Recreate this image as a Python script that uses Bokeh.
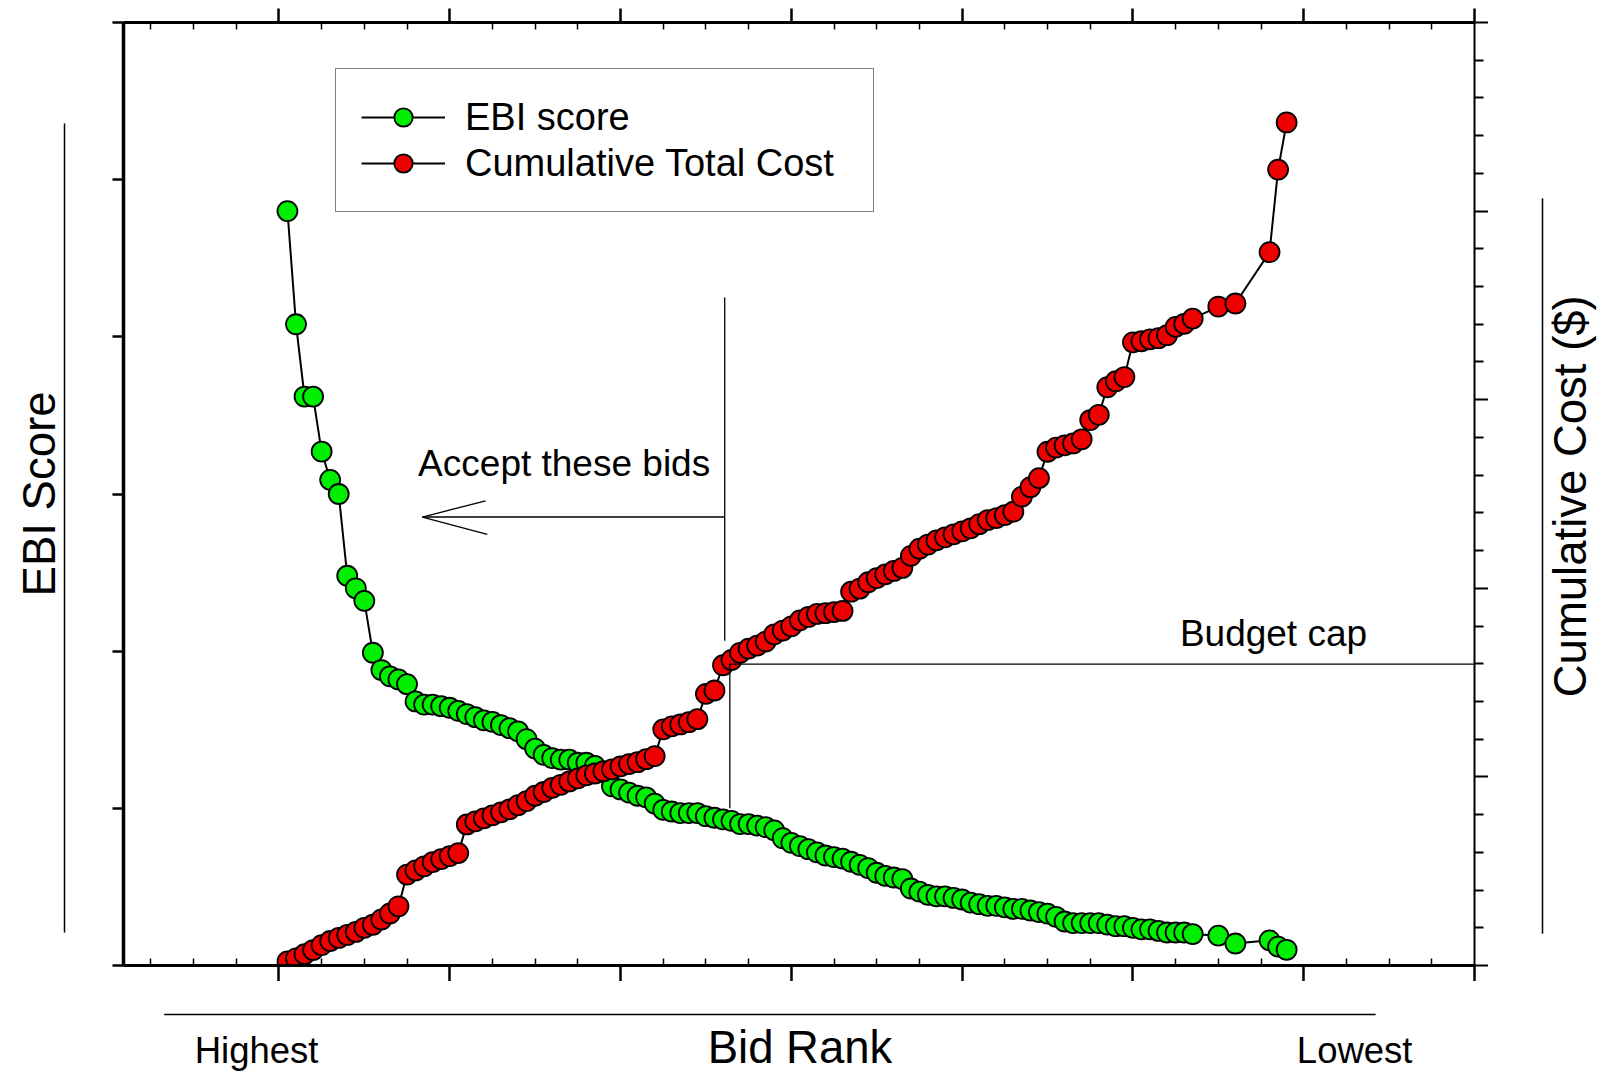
import math
from bokeh.plotting import figure
from bokeh.layouts import row, column
from bokeh.models import Range1d, LinearAxis, FixedTicker, Legend, LegendItem, Label
from bokeh.embed import file_html
from bokeh.resources import INLINE

FONT = "Liberation Sans"
GREEN = "#00ee00"
RED = "#ee0000"

# ---------------- data ----------------
bid_rank = [1, 2, 3, 4, 5, 6, 7, 8, 9, 10,
            11, 12, 13, 14, 15, 16, 17, 18, 19, 20,
            21, 22, 23, 24, 25, 26, 27, 28, 29, 30,
            31, 32, 33, 34, 35, 36, 37, 38, 39, 40,
            41, 42, 43, 44, 45, 46, 47, 48, 49, 50,
            51, 52, 53, 54, 55, 56, 57, 58, 59, 60,
            61, 62, 63, 64, 65, 66, 67, 68, 69, 70,
            71, 72, 73, 74, 75, 76, 77, 78, 79, 80,
            81, 82, 83, 84, 85, 86, 87, 88, 89, 90,
            91, 92, 93, 94, 95, 96, 97, 98, 99, 100,
            101, 102, 103, 104, 105, 106, 107,
            110, 112, 116, 117, 118]

ebi_score = [4.80, 4.08, 3.62, 3.62, 3.27, 3.09, 3.00, 2.48, 2.40, 2.32,
             1.99, 1.88, 1.84, 1.82, 1.79, 1.68, 1.66, 1.66, 1.65, 1.64,
             1.62, 1.60, 1.58, 1.56, 1.55, 1.53, 1.51, 1.49, 1.44, 1.38,
             1.34, 1.32, 1.31, 1.31, 1.29, 1.29, 1.27, 1.23, 1.14, 1.12,
             1.10, 1.08, 1.07, 1.03, 0.99, 0.98, 0.97, 0.97, 0.97, 0.95,
             0.94, 0.93, 0.92, 0.90, 0.90, 0.89, 0.88, 0.86, 0.81, 0.78,
             0.76, 0.74, 0.72, 0.70, 0.69, 0.68, 0.66, 0.64, 0.62, 0.59,
             0.57, 0.56, 0.55, 0.49, 0.47, 0.45, 0.44, 0.44, 0.43, 0.42,
             0.40, 0.39, 0.38, 0.38, 0.37, 0.36, 0.36, 0.35, 0.34, 0.33,
             0.31, 0.28, 0.27, 0.27, 0.27, 0.27, 0.26, 0.25, 0.25, 0.24,
             0.23, 0.23, 0.22, 0.21, 0.21, 0.21, 0.20,
             0.19, 0.14, 0.16, 0.12, 0.10]

cumulative_cost = [0.11, 0.19, 0.30, 0.41, 0.54, 0.65, 0.73, 0.81, 0.89, 1.00,
                   1.08, 1.22, 1.38, 1.57, 2.41, 2.52, 2.63, 2.74, 2.82, 2.90,
                   2.98, 3.74, 3.82, 3.90, 3.98, 4.06, 4.14, 4.25, 4.36, 4.50,
                   4.60, 4.71, 4.79, 4.88, 4.96, 5.04, 5.09, 5.15, 5.20, 5.28,
                   5.34, 5.39, 5.47, 5.55, 6.26, 6.34, 6.39, 6.45, 6.53, 7.20,
                   7.29, 7.96, 8.10, 8.29, 8.40, 8.48, 8.59, 8.78, 8.88, 8.99,
                   9.15, 9.24, 9.32, 9.34, 9.37, 9.40, 9.91, 9.99, 10.16, 10.27,
                   10.37, 10.46, 10.54, 10.86, 11.05, 11.16, 11.27, 11.35, 11.43, 11.51,
                   11.59, 11.70, 11.81, 11.86, 11.94, 12.03, 12.43, 12.68, 12.92, 13.62,
                   13.73, 13.79, 13.84, 13.95, 14.46, 14.60, 15.33, 15.49, 15.60, 16.52,
                   16.55, 16.60, 16.63, 16.71, 16.93, 17.01, 17.15,
                   17.47, 17.55, 18.91, 21.10, 22.35]

# guide lines (bid-rank units, cost units): upper divider, arrow shaft, two arrow
# barbs, budget-cap line, lower divider
guide_x0 = [52.2, 52.2, 16.8, 16.8, 52.8, 52.8]
guide_y0 = [17.71, 11.89, 11.89, 11.89, 7.99, 7.99]
guide_x1 = [52.2, 16.8, 24.2, 24.4, 141.0, 52.8]
guide_y1 = [8.61, 11.89, 12.32, 11.43, 7.99, 4.17]

# tick positions (no numeric tick labels in the reference)
x_major = [0, 20, 40, 60, 80, 100, 120, 140]
x_minor = [-15, -10, -5, 5, 10, 15, 25, 30, 35, 45, 50, 55, 65, 70, 75,
           85, 90, 95, 105, 110, 115, 125, 130, 135]
ebi_ticks = [0, 1, 2, 3, 4, 5, 6]
cost_major = [0, 5, 10, 15, 20, 25]
cost_minor = [1, 2, 3, 4, 6, 7, 8, 9, 11, 12, 13, 14, 16, 17, 18, 19,
              21, 22, 23, 24]

cost_range = Range1d(0, 25)

# ---------------- main figure ----------------
p = figure(width=1488, height=981, output_backend="svg", toolbar_location=None,
           x_range=Range1d(-18.2, 140), y_range=Range1d(0, 6),
           x_axis_location=None, y_axis_location=None,
           min_border_left=123, min_border_right=14,
           min_border_top=22, min_border_bottom=16,
           background_fill_color="white", border_fill_color="white",
           outline_line_color=None)
p.extra_y_ranges = {"cost": cost_range}
p.xgrid.visible = False
p.ygrid.visible = False


def make_axis(ticker, y_range_name=None, line_width=2.0, line_color="black",
              tick_out=0, tick_in=0, minor_out=0, minor_in=0,
              tick_width=2.0, minor_width=1.5, tick_color="black",
              bounds="auto"):
    kw = {}
    if y_range_name is not None:
        kw["y_range_name"] = y_range_name
    ax = LinearAxis(ticker=ticker, bounds=bounds, **kw)
    ax.axis_line_color = line_color
    ax.axis_line_width = line_width
    ax.major_tick_out = tick_out
    ax.major_tick_in = tick_in
    ax.minor_tick_out = minor_out
    ax.minor_tick_in = minor_in
    ax.major_tick_line_color = tick_color
    ax.major_tick_line_width = tick_width
    ax.minor_tick_line_color = tick_color
    ax.minor_tick_line_width = minor_width
    ax.major_label_text_color = None
    ax.major_label_text_font_size = "0px"
    return ax


# bottom / top (Bid Rank)
p.add_layout(make_axis(FixedTicker(ticks=x_major, minor_ticks=x_minor),
                       line_width=3, tick_out=16, minor_in=7, tick_width=2.5), "below")
p.add_layout(make_axis(FixedTicker(ticks=x_major, minor_ticks=x_minor),
                       line_width=3, tick_out=14, minor_in=7, tick_width=2.5), "above")
# left (EBI Score): spine, spacer, guide line, title
p.add_layout(make_axis(FixedTicker(ticks=ebi_ticks), line_width=3.5,
                       tick_out=11, tick_width=2.5), "left")
p.add_layout(make_axis(FixedTicker(ticks=[3]), line_color=None, tick_color=None,
                       tick_out=48), "left")
p.add_layout(make_axis(FixedTicker(ticks=[]), line_width=1.5,
                       bounds=(0.21, 5.36)), "left")
left_title = make_axis(FixedTicker(ticks=[]), line_color=None)
left_title.axis_label = "EBI Score"
left_title.axis_label_text_font = FONT
left_title.axis_label_text_font_size = "45.5px"
left_title.axis_label_text_font_style = "normal"
left_title.axis_label_text_color = "black"
left_title.axis_label_standoff = 0
p.add_layout(left_title, "left")
# right (Cumulative Cost)
p.add_layout(make_axis(FixedTicker(ticks=cost_major, minor_ticks=cost_minor),
                       y_range_name="cost", line_width=2, tick_out=14,
                       minor_out=9, tick_width=2, minor_width=1.8), "right")

# ---------------- series ----------------
g_line = p.line(bid_rank, ebi_score, line_color="black", line_width=2)
g_pts = p.scatter(bid_rank, ebi_score, marker="circle", size=20,
                  fill_color=GREEN, line_color="black", line_width=1.8)
r_line = p.line(bid_rank, cumulative_cost, line_color="black", line_width=2,
                y_range_name="cost")
r_pts = p.scatter(bid_rank, cumulative_cost, marker="circle", size=20,
                  fill_color=RED, line_color="black", line_width=1.8,
                  y_range_name="cost")

# ---------------- guides & annotations ----------------
p.segment(x0=guide_x0, y0=guide_y0, x1=guide_x1, y1=guide_y1,
          y_range_name="cost", line_color="black", line_width=1.3)

p.add_layout(Label(x=16.3, y=13.32, y_range_name="cost", text="Accept these bids",
                   text_font=FONT, text_font_size="37px", text_color="black",
                   text_align="left", text_baseline="middle"))
p.add_layout(Label(x=105.5, y=8.81, y_range_name="cost", text="Budget cap",
                   text_font=FONT, text_font_size="37px", text_color="black",
                   text_align="left", text_baseline="middle"))

legend = Legend(items=[LegendItem(label="EBI score", renderers=[g_line, g_pts]),
                       LegendItem(label="Cumulative Total Cost", renderers=[r_line, r_pts])],
                location=(212, 753), orientation="vertical", padding=25, spacing=0,
                glyph_width=84, glyph_height=46, label_standoff=20, label_width=383,
                label_text_font=FONT, label_text_font_size="38px",
                label_text_color="black", label_text_baseline="middle",
                border_line_color="black", border_line_width=1.5,
                background_fill_color="white", background_fill_alpha=1.0, margin=0)
p.add_layout(legend)


def strip(width, height, xr, yr, top=0, bottom=0):
    f = figure(width=width, height=height, output_backend="svg",
               toolbar_location=None, x_range=xr, y_range=yr,
               x_axis_location=None, y_axis_location=None,
               min_border=0, min_border_left=0, min_border_right=0,
               min_border_top=top, min_border_bottom=bottom,
               background_fill_color="white", border_fill_color="white",
               outline_line_color=None)
    f.xgrid.visible = False
    f.ygrid.visible = False
    return f


# ---------------- right strip: cost-axis title ----------------
# x in page pixels, y shares the cost range of the right axis (same frame rows)
p2 = strip(115, 981, Range1d(1488, 1603), cost_range, top=22, bottom=16)
p2.segment(x0=[1542], y0=[0.84], x1=[1542], y1=[20.34],
           line_color="black", line_width=1.5)
p2.add_layout(Label(x=1569.5, y=12.44, text="Cumulative Cost ($)", angle=math.pi / 2,
                    text_font=FONT, text_font_size="45.5px", text_color="black",
                    text_align="center", text_baseline="middle"))

# ---------------- bottom strip: rank-axis title ----------------
# x in the same bid-rank units as the bottom axis, y in page pixels (downwards)
p3 = strip(1603, 92, Range1d(-32.58, 155.19), Range1d(1073, 981))
p3.segment(x0=[-13.4], y0=[1014], x1=[128.5], y1=[1014],
           line_color="black", line_width=1.5)
p3.add_layout(Label(x=-9.83, y=1049.9, text="Highest",
                    text_font=FONT, text_font_size="36.5px", text_color="black",
                    text_align="left", text_baseline="middle"))
p3.add_layout(Label(x=61.07, y=1047, text="Bid Rank",
                    text_font=FONT, text_font_size="45.5px", text_color="black",
                    text_align="center", text_baseline="middle"))
p3.add_layout(Label(x=119.27, y=1049.5, text="Lowest",
                    text_font=FONT, text_font_size="36.5px", text_color="black",
                    text_align="left", text_baseline="middle"))

layout = column(row(p, p2), p3)
open("out.html", "w").write(file_html(layout, INLINE))
